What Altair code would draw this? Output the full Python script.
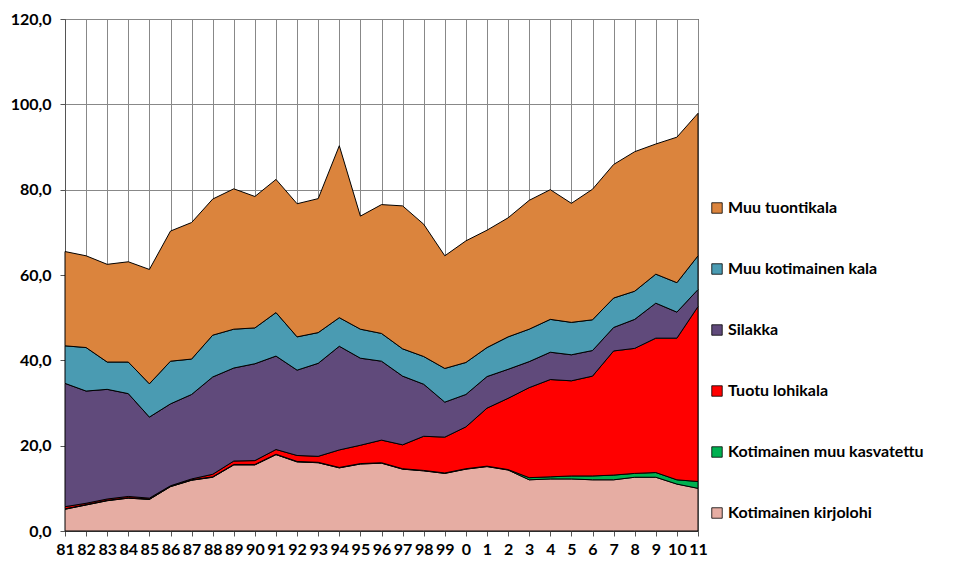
import altair as alt
import pandas as pd

years = ["81","82","83","84","85","86","87","88","89","90","91","92","93","94","95","96",
         "97","98","99","0","1","2","3","4","5","6","7","8","9","10","11"]

kirjolohi = [5.1,6.1,7.1,7.7,7.4,10.4,11.9,12.6,15.5,15.5,17.9,16.2,16.0,14.8,15.7,15.9,
             14.5,14.1,13.5,14.5,15.1,14.3,12.0,12.2,12.2,12.0,12.0,12.6,12.6,11.0,10.0]
muu_kasvatettu = [0.1]*22 + [0.5,0.5,0.7,0.9,1.1,0.9,1.1,1.0,1.6]
tuotu_lohikala = [0.5,0.3,0.3,0.3,0.2,0.1,0.2,0.6,0.8,0.9,1.1,1.4,1.4,4.1,4.3,5.3,
                  5.6,8.0,8.4,9.8,13.6,16.7,21.1,22.8,22.3,23.4,29.1,29.3,31.5,33.2,41.0]
silakka = [28.9,26.3,25.7,24.1,19.0,19.2,19.8,22.8,21.8,22.7,21.9,20.0,21.8,24.3,20.4,18.5,
           16.1,12.2,8.2,7.6,7.4,6.8,6.1,6.4,6.1,6.0,5.5,6.8,8.2,6.1,4.0]
muu_kotimainen = [8.8,10.2,6.4,7.4,7.8,10.0,8.3,9.8,9.1,8.4,10.2,7.8,7.2,6.7,6.8,6.5,
                  6.4,6.5,7.9,7.5,6.8,7.6,7.6,7.7,7.6,7.2,6.9,6.6,6.8,6.9,7.9]
muu_tuonti = [22.1,21.5,22.9,23.5,26.8,30.5,32.0,31.9,32.9,30.8,31.2,31.2,31.4,40.3,26.5,30.2,
              33.5,31.0,26.4,28.5,27.5,27.9,30.2,30.4,27.9,30.6,31.3,32.7,30.5,34.1,33.4]

series_names = ["Kotimainen kirjolohi", "Kotimainen muu kasvatettu", "Tuotu lohikala",
                "Silakka", "Muu kotimainen kala", "Muu tuontikala"]
series_values = [kirjolohi, muu_kasvatettu, tuotu_lohikala, silakka, muu_kotimainen, muu_tuonti]
series_colors = ["#E6ADA3", "#00B050", "#FF0000", "#604A7B", "#4A9BB2", "#DB843D"]

rows = []
for k, (name, vals) in enumerate(zip(series_names, series_values)):
    for y, v in zip(years, vals):
        rows.append({"year": y, "series": name, "value": v, "k": k})
df = pd.DataFrame(rows)

legend_domain = series_names[::-1]
legend_range = series_colors[::-1]

chart = alt.Chart(df).mark_area(
    stroke="black", strokeWidth=1, strokeJoin="round", opacity=1
).encode(
    x=alt.X("year:O", sort=years, title=None,
            scale=alt.Scale(type="point", padding=0),
            axis=alt.Axis(labelAngle=0, grid=True, gridColor="#888888", gridWidth=1,
                          domainColor="#555555", tickColor="#555555", tickSize=5,
                          labelFont="Lato", labelFontSize=16, labelFontWeight="bold",
                          labelColor="black", labelPadding=5)),
    y=alt.Y("value:Q", stack="zero", title=None,
            scale=alt.Scale(domain=[0, 120], nice=False),
            axis=alt.Axis(values=[0, 20, 40, 60, 80, 100, 120],
                          labelExpr="replace(format(datum.value, '.1f'), '.', ',')",
                          grid=True, gridColor="#888888", gridWidth=1,
                          domainColor="#555555", tickColor="#555555", tickSize=5,
                          labelFont="Lato", labelFontSize=16, labelFontWeight="bold",
                          labelColor="black", labelPadding=9)),
    color=alt.Color("series:N",
                    scale=alt.Scale(domain=legend_domain, range=legend_range),
                    legend=alt.Legend(title=None, orient="none", legendX=644, legendY=181,
                                      symbolType="square", symbolSize=110,
                                      symbolStrokeColor="black", symbolStrokeWidth=0.8,
                                      symbolOpacity=1,
                                      labelFont="Lato", labelFontSize=16,
                                      labelFontWeight="bold", labelColor="black",
                                      rowPadding=45, labelLimit=300, labelOffset=3)),
    order=alt.Order("k:Q", sort="ascending"),
).properties(
    width=633, height=512,
    autosize="none",
    padding={"left": 57, "top": 11, "right": 270, "bottom": 30},
).configure_view(
    stroke="black", strokeWidth=1
)

chart.save("out.html", embed_options={"renderer": "svg", "actions": False})
